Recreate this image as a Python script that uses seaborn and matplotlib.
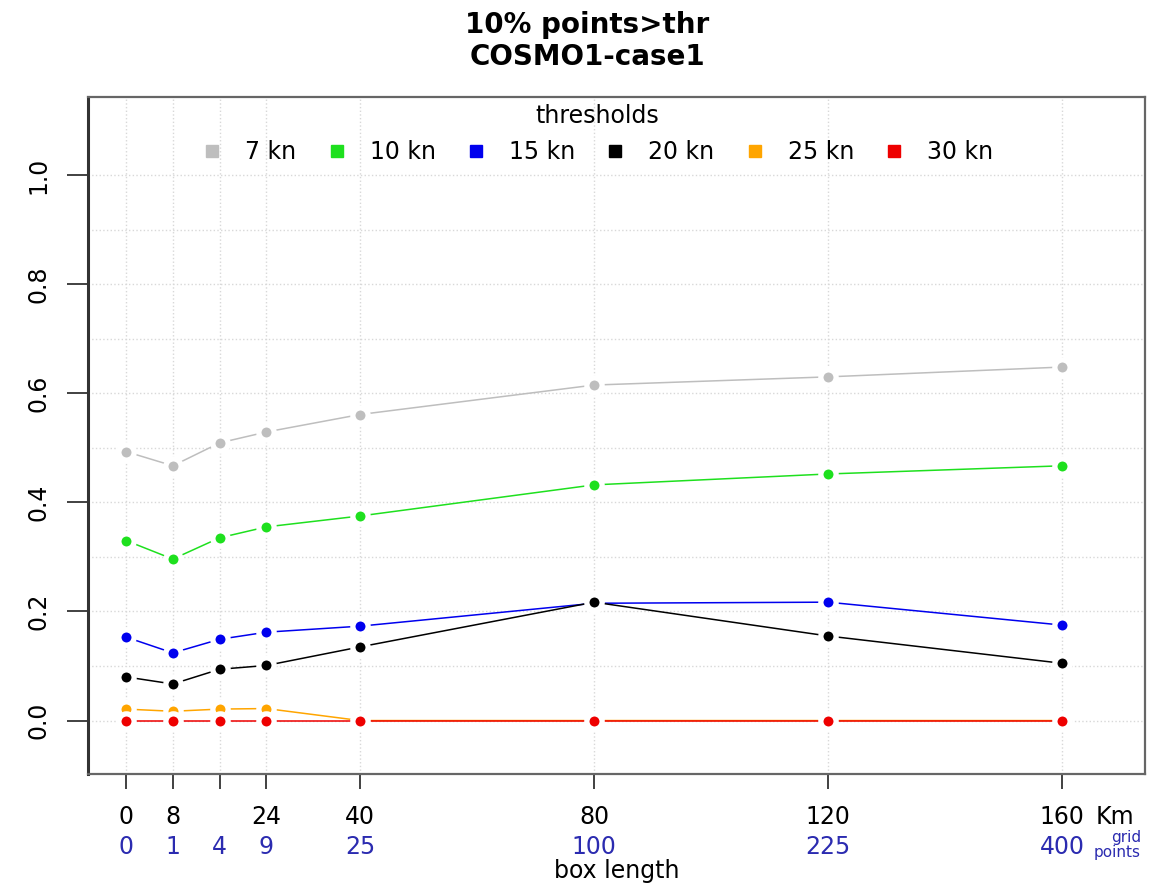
import matplotlib
matplotlib.use("Agg")
import matplotlib.pyplot as plt
from matplotlib.lines import Line2D
import numpy as np
import pandas as pd
import seaborn as sns

# ---- data ----
box_km = [0, 8, 16, 24, 40, 80, 120, 160]
km_labels = ["0", "8", "", "24", "40", "80", "120", "160"]
grid_labels = ["0", "1", "4", "9", "25", "100", "225", "400"]
threshold_names = ["7 kn", "10 kn", "15 kn", "20 kn", "25 kn", "30 kn"]
thr7 = [0.493, 0.467, 0.509, 0.529, 0.561, 0.615, 0.630, 0.648]
thr10 = [0.330, 0.296, 0.335, 0.355, 0.375, 0.432, 0.452, 0.467]
thr15 = [0.153, 0.124, 0.149, 0.162, 0.173, 0.215, 0.217, 0.175]
thr20 = [0.080, 0.067, 0.094, 0.101, 0.135, 0.217, 0.155, 0.105]
thr25 = [0.021, 0.017, 0.021, 0.022, 0.0, 0.0, 0.0, 0.0]
thr30 = [0.0, 0.0, 0.0, 0.0, 0.0, 0.0, 0.0, 0.0]
colors = ["#bebebe", "#1ee01e", "#0000ee", "#000000", "#ffa500", "#ee0000"]

series = [thr7, thr10, thr15, thr20, thr25, thr30]
df = pd.DataFrame({
    "box": box_km * len(series),
    "frac": sum(series, []),
    "thr": [n for n in threshold_names for _ in box_km],
})

sns.set_theme(style="white")
plt.rcParams["font.family"] = ["DejaVu Sans"]
plt.rcParams.update({"text.color": "black", "axes.labelcolor": "black",
                     "xtick.color": "black", "ytick.color": "black"})

fig = plt.figure(figsize=(11.58, 8.86), dpi=100)
ax = fig.add_axes([0.0760, 0.1264, 0.9128, 0.7641])

sns.lineplot(data=df, x="box", y="frac", hue="thr", hue_order=threshold_names,
             palette=colors, marker="o", markersize=11, markeredgecolor="white",
             markeredgewidth=3.8, linewidth=1.1, legend=False, ax=ax, zorder=3)

ax.set_xlim(-6.5, 174.2)
ax.set_ylim(-0.098, 1.143)

# grid
ax.set_yticks([0.0, 0.2, 0.4, 0.6, 0.8, 1.0],
              labels=["0.0", "0.2", "0.4", "0.6", "0.8", "1.0"])
ax.set_yticks(np.round(np.arange(0, 1.01, 0.1), 2), minor=True)
ax.tick_params(axis="y", which="minor", length=0)
ax.grid(True, axis="y", which="both", color="#d8d8d8", linestyle=":", linewidth=1.0)
ax.grid(True, axis="x", which="major", color="#d8d8d8", linestyle=":", linewidth=1.0)
for t in ax.get_yticklabels():
    t.set_rotation(90)
    t.set_va("center")
ax.tick_params(axis="y", which="major", direction="out", length=15, width=1.3,
               color="#333333", pad=12, labelsize=17, left=True, labelcolor="black")

# x axis
ax.set_xticks(box_km, labels=km_labels)
ax.tick_params(axis="x", direction="out", length=11, width=1.3, color="#333333",
               pad=11, labelsize=17, bottom=True, labelcolor="black")
ax.set_xlabel("")
ax.set_ylabel("")

sec = ax.secondary_xaxis("bottom")
sec.set_xticks(box_km, labels=grid_labels)
sec.tick_params(length=0, pad=44, labelsize=17, labelcolor="#2b2bb0")
sec.spines["bottom"].set_visible(False)
sec.set_xlabel("box length", fontsize=17, labelpad=0, color="black")

ax.annotate("Km", xy=(160, 0), xycoords=("data", "axes fraction"),
            xytext=(24, -31), textcoords="offset points", ha="left", va="center",
            fontsize=17, color="black")
ax.annotate("grid\npoints", xy=(160, 0), xycoords=("data", "axes fraction"),
            xytext=(40, -51), textcoords="offset points", ha="center", va="center",
            fontsize=11, color="#2b2bb0", linespacing=1.05, multialignment="right")

# frame
for side, sp in ax.spines.items():
    sp.set_visible(True)
    sp.set_color("#666666")
    sp.set_linewidth(1.6)
ax.spines["left"].set_color("#333333")
ax.spines["left"].set_linewidth(2.2)

# legend
handles = [Line2D([], [], marker="s", linestyle="", color=c, markersize=8)
           for c in colors]
leg = ax.legend(handles, threshold_names, title="thresholds", ncol=6,
                loc="upper center", bbox_to_anchor=(0.4815, 1.014), frameon=False,
                fontsize=17, title_fontsize=17, columnspacing=1.2,
                handletextpad=0.9, handlelength=1.0, borderaxespad=0.3)
leg.get_title().set_color("black")

fig.text(0.507, 0.988, "10% points>thr\nCOSMO1-case1", ha="center", va="top",
         fontsize=20, fontweight="bold", linespacing=1.2, color="black")

fig.savefig("out.png", dpi=100)
